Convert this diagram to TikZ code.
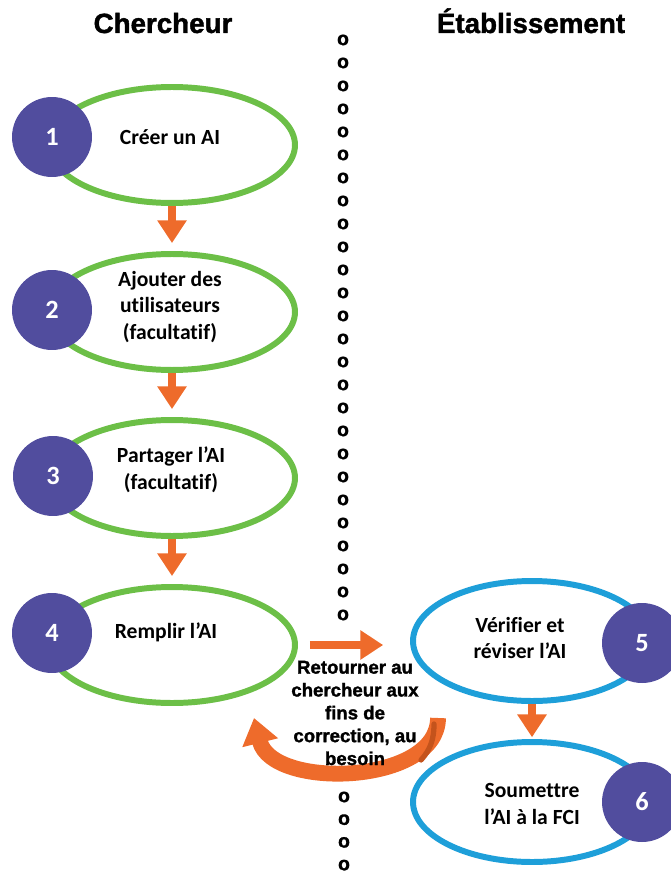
\documentclass[tikz,border=0pt]{standalone}
\usepackage{fontspec}
\setmainfont{Carlito}[Ligatures={NoCommon,TeX}]
\newfontfamily\headfont[BoldFeatures={FakeBold=1.5}]{Liberation Sans}
\usetikzlibrary{arrows.meta,shapes.geometric,positioning}
\definecolor{stepgreen}{HTML}{6CBF47}
\definecolor{stepblue}{HTML}{1E9FD9}
\definecolor{steppurple}{HTML}{514D9E}
\definecolor{flow}{HTML}{EE6B2B}
\definecolor{flowdark}{HTML}{C4531C}

\begin{document}
\begin{tikzpicture}[x=0.02cm, y=-0.02cm,
  chbox/.style={ellipse, draw=stepgreen, line width=3.4pt, minimum width=4.92cm, minimum height=2.32cm},
  etbox/.style={ellipse, draw=stepblue, line width=3.4pt, minimum width=4.76cm, minimum height=2.4cm},
  num/.style={circle, fill=steppurple, minimum size=1.6cm, inner sep=0pt, text=white, font=\bfseries\fontsize{15}{17}\selectfont},
  steptext/.style={align=center, inner sep=0pt, font=\bfseries\fontsize{12.3}{15.3}\selectfont},
  headtext/.style={anchor=base, inner sep=0pt, font=\headfont\bfseries\fontsize{15.8}{18}\selectfont},
  dotsep/.style={inner sep=0pt, font=\headfont\bfseries\fontsize{11}{11}\selectfont},
  flowarrow/.style={flow, line width=4pt, -{Triangle[width=16pt,length=13pt]}}]
\useasboundingbox (0,0) rectangle (671,874);

% column heads
\node[headtext] (chercheur) at (163,33) {Chercheur};
\node[headtext] (etab) at (531,33) {Établissement};

% separator
\foreach \k in {0,...,25}
  \node[dotsep] (up-\k) at (343,40+23*\k) {o};
\foreach \k in {0,...,3}
  \node[dotsep] (low-\k) at (344,797+22.7*\k) {o};

% steps
\node[chbox] (e1) at (172,145) {};
\node[chbox] (e2) at (172,312) {};
\node[chbox] (e3) at (172,478) {};
\node[chbox] (e4) at (172,645) {};
\node[etbox] (e5) at (532,641) {};
\node[etbox] (e6) at (532,802) {};

\node[num] (n1) at (52,137) {1};
\node[num] (n2) at (52,310) {2};
\node[num] (n3) at (53,476) {3};
\node[num] (n4) at (52,633) {4};
\node[num] (n5) at (642,643) {5};
\node[num] (n6) at (642,802) {6};

\node[steptext] (t1) at (170,137) {Créer un AI};
\node[steptext] (t2) at (170,307) {Ajouter des\\utilisateurs\\(facultatif)};
\node[steptext] (t3) at (171,470) {Partager l’AI\\(facultatif)};
\node[steptext] (t4) at (166,632) {Remplir l’AI};
\node[steptext] (t5) at (520,638) {Vérifier et\\réviser l’AI};
\node[steptext] (t6) at (532,804) {Soumettre\\l’AI à la FCI};

% flow
\draw[flowarrow, shorten >=4.5pt] (e1) -- (e2);
\draw[flowarrow, shorten >=4.5pt] (e2) -- (e3);
\draw[flowarrow, shorten >=4.5pt] (e3) -- (e4);
\draw[flowarrow, shorten >=1pt] (e5) -- (e6);
\draw[flowarrow, shorten <=6.8pt, shorten >=15.3pt] (e4.east) -- (e4.east -| e5.west);

% way back
\coordinate (back-start) at (438,718);
\coordinate (back-end) at (254,718);
\draw[flow, line width=9pt, -{Triangle[width=20pt,length=14.5pt]}]
  (back-start) .. controls (438,785) and (272,790) .. (back-end);
\draw[flowdark, line width=3pt, line cap=round] (434,724) .. controls (434,740) and (430,750) .. (421,760);
\node[align=center, inner sep=0pt, font=\headfont\bfseries\fontsize{10.6}{13}\selectfont] (retour) at (355,713)
  {Retourner au\\chercheur aux\\fins de\\correction, au\\besoin};
\end{tikzpicture}
\end{document}
